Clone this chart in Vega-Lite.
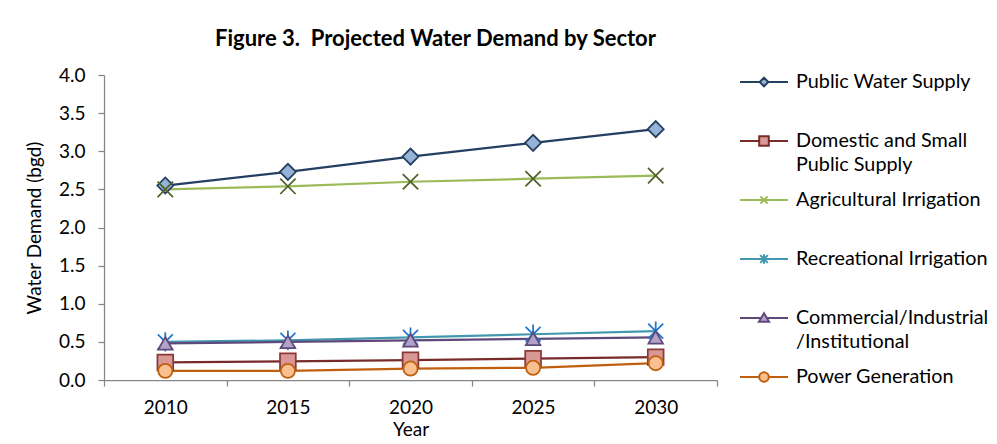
{
  "$schema": "https://vega.github.io/schema/vega-lite/v6.json",
  "width": 613,
  "height": 305,
  "padding": {"left": 25, "top": 28, "right": 2, "bottom": 2},
  "autosize": {"type": "pad"},
  "background": "white",
  "title": {"text": "Figure 3.\u00a0 Projected Water Demand by Sector", "font": "Lato", "fontSize": 22, "fontWeight": "bold", "color": "black", "frame": "group", "anchor": "middle", "dx": 25, "offset": 6},
  "config": {"view": {"stroke": null}},
  "data": {"values": [
    {"year": "2010", "series": "Public Water Supply", "value": 2.55},
    {"year": "2015", "series": "Public Water Supply", "value": 2.73},
    {"year": "2020", "series": "Public Water Supply", "value": 2.93},
    {"year": "2025", "series": "Public Water Supply", "value": 3.11},
    {"year": "2030", "series": "Public Water Supply", "value": 3.29},
    {"year": "2010", "series": "Domestic and Small Public Supply", "value": 0.23},
    {"year": "2015", "series": "Domestic and Small Public Supply", "value": 0.245},
    {"year": "2020", "series": "Domestic and Small Public Supply", "value": 0.26},
    {"year": "2025", "series": "Domestic and Small Public Supply", "value": 0.28},
    {"year": "2030", "series": "Domestic and Small Public Supply", "value": 0.30},
    {"year": "2010", "series": "Agricultural Irrigation", "value": 2.50},
    {"year": "2015", "series": "Agricultural Irrigation", "value": 2.54},
    {"year": "2020", "series": "Agricultural Irrigation", "value": 2.60},
    {"year": "2025", "series": "Agricultural Irrigation", "value": 2.64},
    {"year": "2030", "series": "Agricultural Irrigation", "value": 2.68},
    {"year": "2010", "series": "Recreational Irrigation", "value": 0.50},
    {"year": "2015", "series": "Recreational Irrigation", "value": 0.52},
    {"year": "2020", "series": "Recreational Irrigation", "value": 0.56},
    {"year": "2025", "series": "Recreational Irrigation", "value": 0.60},
    {"year": "2030", "series": "Recreational Irrigation", "value": 0.64},
    {"year": "2010", "series": "Commercial/Industrial/Institutional", "value": 0.48},
    {"year": "2015", "series": "Commercial/Industrial/Institutional", "value": 0.50},
    {"year": "2020", "series": "Commercial/Industrial/Institutional", "value": 0.52},
    {"year": "2025", "series": "Commercial/Industrial/Institutional", "value": 0.54},
    {"year": "2030", "series": "Commercial/Industrial/Institutional", "value": 0.56},
    {"year": "2010", "series": "Power Generation", "value": 0.12},
    {"year": "2015", "series": "Power Generation", "value": 0.12},
    {"year": "2020", "series": "Power Generation", "value": 0.15},
    {"year": "2025", "series": "Power Generation", "value": 0.16},
    {"year": "2030", "series": "Power Generation", "value": 0.22}
  ]},
  "encoding": {
    "x": {"field": "year", "type": "ordinal",
      "scale": {"type": "band", "paddingInner": 0, "paddingOuter": 0},
      "axis": {"title": "Year", "labelAngle": 0, "tickBand": "extent", "grid": false,
        "domainColor": "#868686", "tickColor": "#868686", "tickSize": 6, "domainWidth": 1.25, "tickWidth": 1.25,
        "labelFont": "Lato", "labelFontSize": 19, "labelColor": "black", "labelPadding": 12,
        "titleFont": "Lato", "titleFontSize": 19, "titleFontWeight": "normal", "titleColor": "black", "titlePadding": 3}},
    "y": {"field": "value", "type": "quantitative",
      "scale": {"domain": [0, 4], "nice": false, "zero": true},
      "axis": {"title": "Water Demand (bgd)", "values": [0, 0.5, 1, 1.5, 2, 2.5, 3, 3.5, 4], "format": ".1f", "grid": false,
        "domainColor": "#868686", "tickColor": "#868686", "tickSize": 6, "domainWidth": 1.25, "tickWidth": 1.25,
        "labelFont": "Lato", "labelFontSize": 19, "labelColor": "black", "labelPadding": 13,
        "titleFont": "Lato", "titleFontSize": 19, "titleFontWeight": "normal", "titleColor": "black", "titlePadding": 14}}
  },
  "layer": [
    {
      "mark": {"type": "line", "strokeWidth": 2.25},
      "encoding": {
        "color": {"field": "series", "type": "nominal",
          "scale": {"domain": ["Public Water Supply", "Domestic and Small Public Supply", "Agricultural Irrigation", "Recreational Irrigation", "Commercial/Industrial/Institutional", "Power Generation"],
            "range": ["#243F60", "#772C2A", "#9BBB59", "#4198AF", "#5F497A", "#C0600F"]},
          "legend": {"title": null, "orient": "none", "legendX": 635, "legendY": -18, "padding": 0,
            "labelFont": "Lato", "labelFontSize": 19.8, "labelColor": "black", "labelLimit": 400, "labelOffset": 7,
            "symbolSize": 2304, "symbolStrokeWidth": 2, "rowPadding": -6, "gridAlign": "all",
            "labelExpr": "datum.label == 'Domestic and Small Public Supply' ? ['Domestic and Small', 'Public Supply'] : datum.label == 'Commercial/Industrial/Institutional' ? ['Commercial/Industrial', '/Institutional'] : datum.label",
            "encode": {
              "labels": {"update": {"lineHeight": {"value": 24}}},
              "symbols": {"update": {
              "shape": {"signal": "['M-1,0L-0.18,0M0.18,0L1,0M0,-0.18L0.18,0L0,0.18L-0.18,0Z', 'M-1,0L-0.2,0M0.2,0L1,0M-0.2,-0.2L0.2,-0.2L0.2,0.2L-0.2,0.2Z', 'M-1,0L1,0M-0.15,-0.15L0.15,0.15M-0.15,0.15L0.15,-0.15', 'M-1,0L1,0M-0.16,-0.16L0.16,0.16M-0.16,0.16L0.16,-0.16M0,-0.2L0,0.2', 'M-1,0L-0.11,0M0.11,0L1,0M0,-0.2L0.21,0.16L-0.21,0.16Z', 'M-1,0L-0.2,0M0.2,0L1,0M0.2,0A0.2,0.2 0 1,1 -0.2,0A0.2,0.2 0 1,1 0.2,0Z'][indexof(['Public Water Supply', 'Domestic and Small Public Supply', 'Agricultural Irrigation', 'Recreational Irrigation', 'Commercial/Industrial/Institutional', 'Power Generation'], datum.value)]"},
              "fill": {"signal": "['#95B3D7', '#D99795', 'transparent', 'transparent', '#B3A2C7', '#FAC090'][indexof(['Public Water Supply', 'Domestic and Small Public Supply', 'Agricultural Irrigation', 'Recreational Irrigation', 'Commercial/Industrial/Institutional', 'Power Generation'], datum.value)]"},
              "size": {"value": 2304},
              "strokeWidth": {"value": 2}
            }}}
          }}
      }
    },
    {
      "mark": {"type": "point", "opacity": 1, "strokeWidth": 1.75},
      "encoding": {
        "shape": {"field": "series", "type": "nominal", "legend": null,
          "scale": {"domain": ["Power Generation", "Commercial/Industrial/Institutional", "Recreational Irrigation", "Agricultural Irrigation", "Domestic and Small Public Supply", "Public Water Supply"],
            "range": ["circle", "triangle-up", "M-1,-1L1,1M-1,1L1,-1M0,-1.3L0,1.3", "M-1,-1L1,1M-1,1L1,-1", "square", "diamond"]}},
        "size": {"field": "series", "type": "nominal", "legend": null,
          "scale": {"domain": ["Power Generation", "Commercial/Industrial/Institutional", "Recreational Irrigation", "Agricultural Irrigation", "Domestic and Small Public Supply", "Public Water Supply"],
            "range": [200, 260, 240, 300, 170, 300]}},
        "fill": {"field": "series", "type": "nominal", "legend": null,
          "scale": {"domain": ["Power Generation", "Commercial/Industrial/Institutional", "Recreational Irrigation", "Agricultural Irrigation", "Domestic and Small Public Supply", "Public Water Supply"],
            "range": ["#FAC090", "#B3A2C7", "transparent", "transparent", "#D99795", "#95B3D7"]}},
        "stroke": {"field": "series", "type": "nominal", "legend": null,
          "scale": {"domain": ["Power Generation", "Commercial/Industrial/Institutional", "Recreational Irrigation", "Agricultural Irrigation", "Domestic and Small Public Supply", "Public Water Supply"],
            "range": ["#C0600F", "#5F497A", "#1F77D0", "#4F6228", "#8C3836", "#243F60"]}}
      }
    }
  ]
}
